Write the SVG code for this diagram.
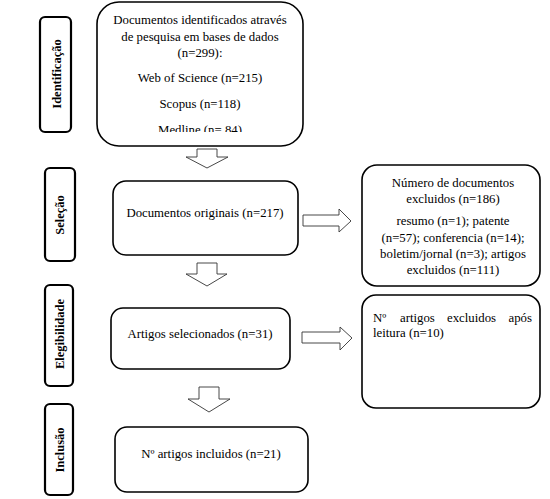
<svg xmlns="http://www.w3.org/2000/svg" width="550" height="499" viewBox="0 0 550 499">
<style>
.box{fill:#fff;stroke:#000;stroke-width:1.6}
.side{fill:#fff;stroke:#000;stroke-width:2.2}
.arr{fill:#fff;stroke:#333;stroke-width:0.9}
text{font-family:"Liberation Serif","Times New Roman",serif;font-size:12.8px;fill:#000}
.lbl{font-weight:bold;font-size:12.5px}
.c{text-anchor:middle}
</style>
<defs>
<clipPath id="clip1"><rect x="97" y="2" width="206" height="130"/></clipPath>
</defs>
<rect width="550" height="499" fill="#fff"/>
<g id="side-identificacao">
<rect class="side" x="40" y="17" width="31" height="115" rx="5"/>
<text class="lbl c" transform="translate(61,74) rotate(-90)">Identificação</text>
</g>
<g id="side-selecao">
<rect class="side" x="45" y="168" width="30" height="93" rx="5"/>
<text class="lbl c" transform="translate(64,215) rotate(-90)">Seleção</text>
</g>
<g id="side-elegibilidade">
<rect class="side" x="45" y="285" width="28" height="101" rx="5"/>
<text class="lbl c" transform="translate(64,334) rotate(-90)">Elegibilidade</text>
</g>
<g id="side-inclusao">
<rect class="side" x="45" y="404" width="28" height="91" rx="5"/>
<text class="lbl c" transform="translate(64,450) rotate(-90)">Inclusão</text>
</g>
<g id="connectors">
<polygon class="arr" points="197,149 217,149 217,157 228,157 207,168 186,157 197,157"/>
<polygon class="arr" points="197,263 217,263 217,274 227,274 207,286 186,274 197,274"/>
<polygon class="arr" points="199,387 219,387 219,399 230,399 209,412 188,399 199,399"/>
<polygon class="arr" points="303,215 339,215 339,209 351,221 339,232 339,226 303,226"/>
<polygon class="arr" points="302,332 340,332 340,327 352,338 340,350 340,343 302,343"/>
</g>
<g id="box-identificados">
<rect class="box" x="97" y="2" width="206" height="144" rx="22"/>
<g clip-path="url(#clip1)">
<text class="c" x="200" y="24">Documentos identificados através</text>
<text class="c" x="200" y="41">de pesquisa em bases de dados</text>
<text class="c" x="200" y="57">(n=299):</text>
<text class="c" x="200" y="82">Web of Science (n=215)</text>
<text class="c" x="200" y="108">Scopus (n=118)</text>
<text class="c" x="200" y="134">Medline (n= 84)</text>
</g>
</g>
<g id="box-originais">
<rect class="box" x="113" y="181" width="185" height="74" rx="13"/>
<text class="c" x="205" y="217">Documentos originais (n=217)</text>
</g>
<g id="box-excluidos">
<rect class="box" x="362" y="165" width="178" height="121" rx="15"/>
<text class="c" x="453" y="187">Número de documentos</text>
<text class="c" x="453" y="203">excluidos (n=186)</text>
<text class="c" x="453" y="225">resumo (n=1); patente</text>
<text class="c" x="453" y="242">(n=57); conferencia (n=14);</text>
<text class="c" x="453" y="258">boletim/jornal (n=3); artigos</text>
<text class="c" x="453" y="274">excluidos (n=111)</text>
</g>
<g id="box-selecionados">
<rect class="box" x="111" y="308" width="179" height="61" rx="12"/>
<text class="c" x="200" y="338">Artigos selecionados (n=31)</text>
</g>
<g id="box-excluidos-leitura">
<rect class="box" x="362" y="295" width="178" height="113" rx="14"/>
<text y="322"><tspan x="373">Nº</tspan><tspan x="400">artigos</tspan><tspan x="447">excluidos</tspan><tspan x="532" text-anchor="end">após</tspan></text>
<text x="373" y="337">leitura (n=10)</text>
</g>
<g id="box-incluidos">
<rect class="box" x="115" y="427" width="193" height="65" rx="12"/>
<text class="c" x="211" y="458">Nº artigos incluidos (n=21)</text>
</g>
</svg>
